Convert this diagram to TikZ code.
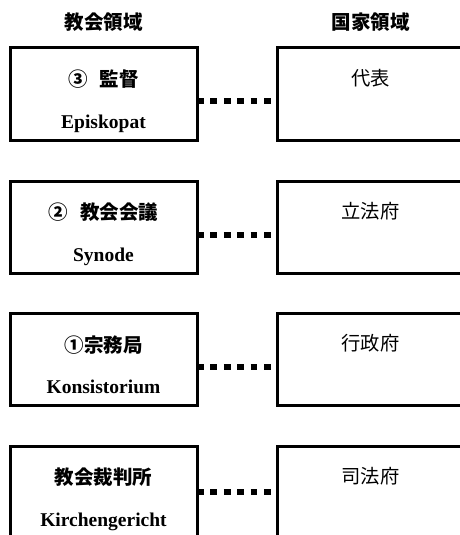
\documentclass[tikz,border=0pt]{standalone}
\usepackage{fontspec}
\setmainfont{Liberation Serif}
\newfontfamily\jp{Noto Sans CJK JP}
\begin{document}
\begin{tikzpicture}[x=1pt,y=-1pt,
  box/.style={draw=black,line width=3pt,minimum width=187pt,minimum height=92pt,outer sep=0pt,inner sep=0pt},
  head/.style={font=\jp\bfseries\fontsize{19.5}{22}\selectfont},
  jlab/.style={font=\jp\bfseries\fontsize{19.5}{22}\selectfont},
  jrlab/.style={font=\jp\fontsize{19.3}{22}\selectfont},
  elab/.style={font=\bfseries\fontsize{19.5}{22}\selectfont,anchor=base},
  dotline/.style={line width=6.7pt,dash pattern=on 6.7pt off 6.7pt,shorten >=6.3pt}]
\clip (0,0) rectangle (460,535);
\node[head] (hl) at (103.5,22) {教会領域};
\node[head] (hr) at (370.5,22) {国家領域};
% left boxes
\node[box] (l1) at (103.5,94) {};
\node[box] (l2) at (103.5,227) {};
\node[box] (l3) at (103.5,359.5) {};
\node[box] (l4) at (103.5,492) {};
% right boxes
\node[box] (r1) at (370.5,94) {};
\node[box] (r2) at (370.5,227) {};
\node[box] (r3) at (370.5,359.5) {};
\node[box] (r4) at (370.5,492) {};
% left texts
\node[jlab] (j1) at ([yshift=-31.5pt]l1.north) {③\hspace{12pt}監督};
\node[elab] (e1) at ([yshift=-80pt]l1.north) {Episkopat};
\node[jlab] (j2) at ([yshift=-31.5pt]l2.north) {②\hspace{12pt}教会会議};
\node[elab] (e2) at ([yshift=-80pt]l2.north) {Synode};
\node[jlab] (j3) at ([yshift=-31.5pt]l3.north) {①宗務局};
\node[elab] (e3) at ([yshift=-80pt]l3.north) {Konsistorium};
\node[jlab] (j4) at ([yshift=-31.5pt]l4.north) {教会裁判所};
\node[elab] (e4) at ([yshift=-80pt]l4.north) {Kirchengericht};
% right texts
\node[jrlab] (k1) at ([yshift=-30pt]r1.north) {代表};
\node[jrlab] (k2) at ([yshift=-30pt]r2.north) {立法府};
\node[jrlab] (k3) at ([yshift=-30pt]r3.north) {行政府};
\node[jrlab] (k4) at ([yshift=-30pt]r4.north) {司法府};
% dotted connectors
\draw[dotline] ([yshift=-7pt]l1.east) -- ([yshift=-7pt]r1.west);
\draw[dotline] ([yshift=-8pt]l2.east) -- ([yshift=-8pt]r2.west);
\draw[dotline] ([yshift=-7.5pt]l3.east) -- ([yshift=-7.5pt]r3.west);
\draw[dotline] (l4.east) -- (r4.west);
\end{tikzpicture}
\end{document}
